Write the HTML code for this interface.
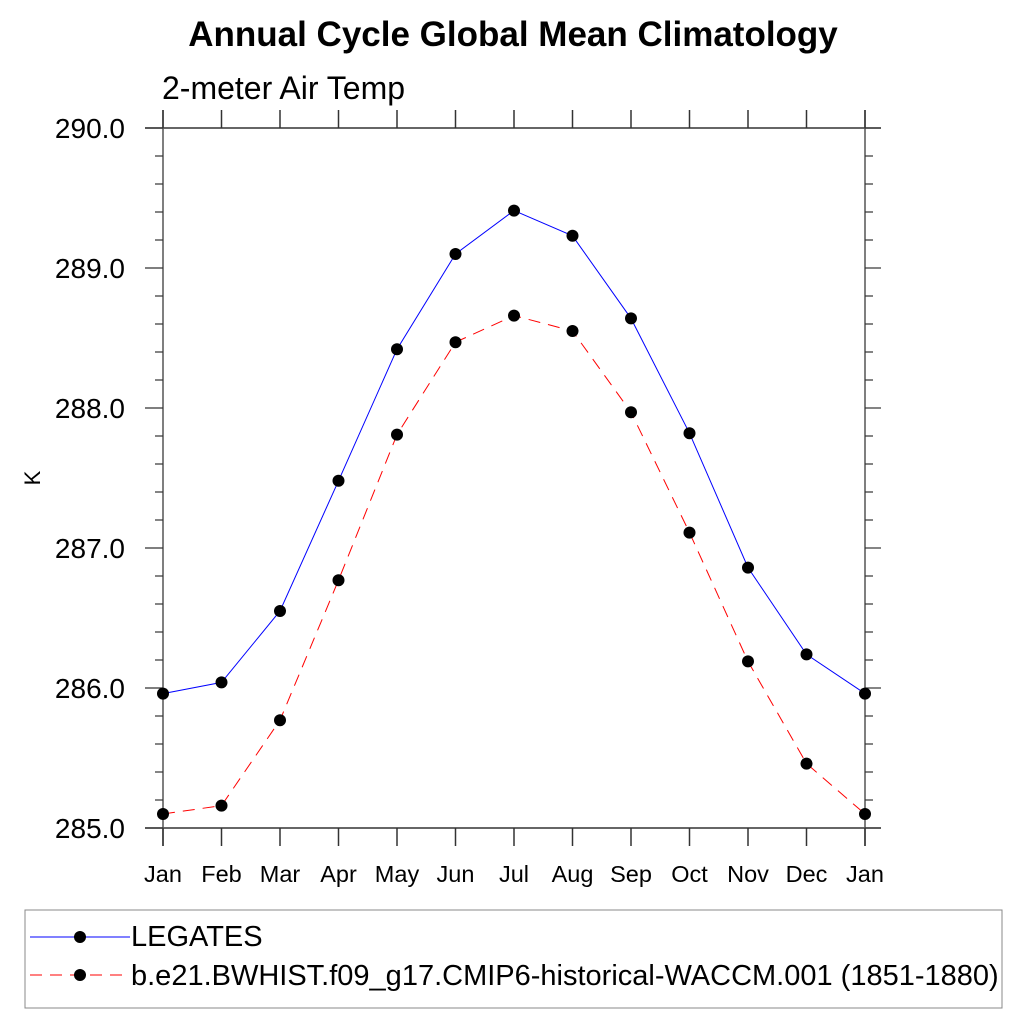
<!DOCTYPE html>
<html><head><meta charset="utf-8"><style>
body{margin:0;background:#fff}
svg{display:block;font-family:"Liberation Sans",Arial,sans-serif}
</style></head><body>
<svg id="c" width="1024" height="1024" viewBox="0 0 1024 1024">
<text x="513" y="46" text-anchor="middle" font-size="35" font-weight="bold">Annual Cycle Global Mean Climatology</text>
<text x="162" y="99" font-size="32">2-meter Air Temp</text>
<text x="40" y="478" font-size="22" text-anchor="middle" transform="rotate(-90 40 478)">K</text>
<g id="axes"></g>
<g id="series"></g>
<rect x="25" y="910" width="977" height="98" fill="none" stroke="#888" stroke-width="1"/>
<line x1="30" y1="937" x2="130" y2="937" stroke="#00f" stroke-width="1"/>
<circle cx="80" cy="937" r="6" fill="#000"/>
<text x="131" y="946" font-size="29">LEGATES</text>
<line x1="30" y1="975" x2="130" y2="975" stroke="#f00" stroke-width="1" stroke-dasharray="12,8"/>
<circle cx="80" cy="975" r="6" fill="#000"/>
<text x="131" y="985" font-size="29">b.e21.BWHIST.f09_g17.CMIP6-historical-WACCM.001 (1851-1880)</text>
</svg>
<script>
const months=["Jan","Feb","Mar","Apr","May","Jun","Jul","Aug","Sep","Oct","Nov","Dec","Jan"];
const legates=[285.96,286.04,286.55,287.48,288.42,289.10,289.41,289.23,288.64,287.82,286.86,286.24,285.96];
const waccm=[285.10,285.16,285.77,286.77,287.81,288.47,288.66,288.55,287.97,287.11,286.19,285.46,285.10];
const yTicks=[285,286,287,288,289,290];
const yTickLabels=["285.0","286.0","287.0","288.0","289.0","290.0"];
const X0=163,X1=865,Y0=828,Y1=128,YMIN=285,YMAX=290;
const xs=i=>X0+(X1-X0)*i/(months.length-1);
const ys=v=>Y0-(v-YMIN)/(YMAX-YMIN)*(Y0-Y1);
const NS="http://www.w3.org/2000/svg";
const ax=document.getElementById('axes'),se=document.getElementById('series');
function mk(p,tag,a){const e=document.createElementNS(NS,tag);for(const k in a)e.setAttribute(k,a[k]);p.appendChild(e);return e;}
let e;
e=mk(ax,'line',{x1:145,y1:Y1,x2:881,y2:Y1,stroke:'#333','stroke-width':1.5});


e=mk(ax,'line',{x1:145,y1:Y0,x2:881,y2:Y0,stroke:'#333','stroke-width':1.5});


e=mk(ax,'line',{x1:X0,y1:110,x2:X0,y2:846,stroke:'#555','stroke-width':1.5});


e=mk(ax,'line',{x1:X1,y1:110,x2:X1,y2:846,stroke:'#555','stroke-width':1.5});


months.forEach((m,i)=>{const x=xs(i);
 mk(ax,'line',{x1:x,y1:110,x2:x,y2:Y1,stroke:'#333','stroke-width':1.5});
 mk(ax,'line',{x1:x,y1:Y0,x2:x,y2:846,stroke:'#333','stroke-width':1.5});
 e=mk(ax,'text',{x:x,y:882,'font-size':23.5,'text-anchor':'middle'});e.textContent=m;
 
 
});
for(let v=YMIN;v<=YMAX+1e-9;v+=0.2){const y=ys(v);const maj=Math.abs(v-Math.round(v))<1e-6;
 mk(ax,'line',{x1:maj?145:155,y1:y,x2:X0,y2:y,stroke:'#333','stroke-width':1.2});
 mk(ax,'line',{x1:X1,y1:y,x2:maj?881:873,y2:y,stroke:'#333','stroke-width':1.2});}
yTicks.forEach((v,i)=>{e=mk(ax,'text',{x:125,y:ys(v)+10,'font-size':28,'text-anchor':'end'});e.textContent=yTickLabels[i];
 
 });
function draw(d,col,dash,name){
 e=mk(se,'polyline',{points:d.map((v,i)=>xs(i)+','+ys(v)).join(' '),fill:'none',stroke:col,'stroke-width':1,'stroke-dasharray':dash});
 
 
 d.forEach((v,i)=>{e=mk(se,'circle',{cx:xs(i),cy:ys(v),r:6,fill:'#000'});
 
 });
}
draw(waccm,'#f00','12,8','waccm');
draw(legates,'#00f','none','legates');
</script>
</body></html>
